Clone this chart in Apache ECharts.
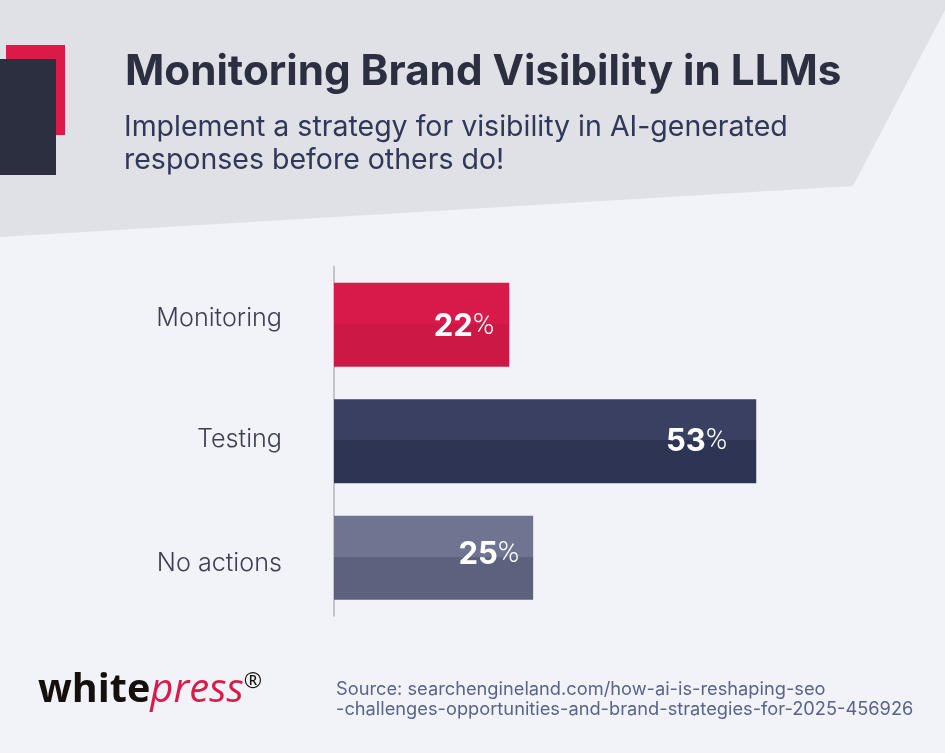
<!DOCTYPE html>
<html>
<head>
<meta charset="utf-8">
<title>Monitoring Brand Visibility in LLMs</title>
<style>
  html, body { margin: 0; padding: 0; background: #f1f3f9; }
  #chart { width: 945px; height: 753px; }
</style>
<script src="https://cdn.jsdelivr.net/npm/echarts@6/dist/echarts.min.js"></script>
</head>
<body>
<div id="chart"></div>
<script>
var categories = ['Monitoring', 'Testing', 'No actions'];
var shares = [22, 53, 25];

var fontName = 'Inter';

// bar colours and the small per row nudges of the labels
var topColors = ['#d81a4a', '#394062', '#6f7591'];
var bottomColors = ['#cc1845', '#2e3454', '#5c627e'];
var valueLabelGap = [15, 29, 14];
var valueLabelShift = [2, 0, -3];

var myChart = echarts.init(document.getElementById('chart'));

// two tone bar, hard edge just above the middle
function twoTone(i) {
  return new echarts.graphic.LinearGradient(0, 0, 0, 1, [
    { offset: 0, color: topColors[i] },
    { offset: 0.49, color: topColors[i] },
    { offset: 0.49, color: bottomColors[i] },
    { offset: 1, color: bottomColors[i] }
  ]);
}

var barData = shares.map(function (v, i) {
  return {
    value: v,
    itemStyle: { color: twoTone(i) },
    label: { distance: valueLabelGap[i], offset: [0, valueLabelShift[i]] }
  };
});

var nameStyle = { fontFamily: fontName, fontSize: 25.2, fontWeight: 300, color: '#3c3f50' };

var option = {
  backgroundColor: '#f1f3f9',
  animation: false,
  title: [
    {
      text: 'Monitoring Brand Visibility in LLMs',
      left: 120, top: 46,
      textStyle: { fontFamily: fontName, fontSize: 42.2, fontWeight: 700, color: '#2b2f40' }
    },
    {
      text: 'Implement a strategy for visibility in AI-generated\nresponses before others do!',
      left: 119, top: 106,
      textStyle: { fontFamily: fontName, fontSize: 28.5, fontWeight: 400, color: '#303858', lineHeight: 33 }
    },
    {
      text: 'Source: searchengineland.com/how-ai-is-reshaping-seo\n-challenges-opportunities-and-brand-strategies-for-2025-456926',
      left: 331, top: 675,
      textStyle: { fontFamily: fontName, fontSize: 18.25, fontWeight: 400, color: '#5a6389', lineHeight: 20 }
    }
  ],
  graphic: [
    { type: 'polygon', z: -10, shape: { points: [[0, 0], [945, 0], [945, 10], [853, 186], [0, 237]] }, style: { fill: '#e0e1e6' } },
    { type: 'rect', z: -9, shape: { x: 6, y: 45, width: 59, height: 90 }, style: { fill: '#db1a4a' } },
    { type: 'rect', z: -8, shape: { x: 0, y: 59, width: 56, height: 116 }, style: { fill: '#2b2f3f' } },
    {
      type: 'text', left: 38, top: 671,
      style: {
        text: '{a|white}{b|press}{c|®}',
        rich: {
          a: { fontFamily: 'Open Sans', fontSize: 39.5, fontWeight: 700, fill: '#15100c' },
          b: { fontFamily: 'Open Sans', fontSize: 40, fontStyle: 'italic', fontWeight: 400, fill: '#db1a4a' },
          c: { fontFamily: 'Open Sans', fontSize: 22, fontWeight: 400, fill: '#15100c', verticalAlign: 'top' }
        }
      }
    }
  ],
  grid: { left: 334, top: 266.5, width: 478, height: 349.5 },
  xAxis: {
    type: 'value', min: 0, max: 60,
    show: false
  },
  yAxis: {
    type: 'category',
    inverse: true,
    data: categories,
    axisTick: { show: false },
    axisLine: { lineStyle: { color: '#b5b6ba', width: 1.5 } },
    axisLabel: {
      margin: 52,
      formatter: function (name, i) { return '{r' + i + '|' + name + '}'; },
      rich: {
        r0: Object.assign({ padding: [0, 0, 12, 0] }, nameStyle),
        r1: Object.assign({ padding: [0, 0, 4, 0] }, nameStyle),
        r2: Object.assign({ padding: [12, 0, 0, 0] }, nameStyle)
      }
    }
  },
  series: [{
    type: 'bar',
    barWidth: 84,
    data: barData,
    z: 1,
    label: {
      show: true,
      position: 'insideRight',
      formatter: '{n|{c}}{p|%}',
      rich: {
        n: { fontFamily: fontName, fontSize: 31, fontWeight: 700, color: '#fff' },
        p: { fontFamily: 'Roboto', fontSize: 29, fontWeight: 300, color: '#fff' }
      }
    }
  }]
};

myChart.setOption(option);
</script>
</body>
</html>
